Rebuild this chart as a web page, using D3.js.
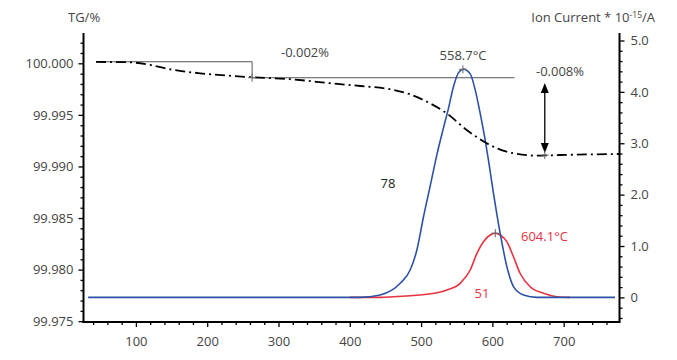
<!DOCTYPE html>
<html>
<head>
<meta charset="utf-8">
<script src="https://cdn.jsdelivr.net/npm/d3@7"></script>
<style>
html,body{margin:0;padding:0;background:#fff;}
svg{display:block;}
text{font-family:"Open Sans",sans-serif;}
</style>
</head>
<body>
<svg id="chart" width="677" height="360"></svg>
<script>
// ---- data ----
const tgTemp  = [44, 90, 120, 148, 190, 236, 264, 316, 377, 415, 461, 485, 508, 536, 564, 592, 620, 662, 695, 779];
const tgValue = [100.00013, 100.0001, 99.99984, 99.99942, 99.99903, 99.99877, 99.99864, 99.99846, 99.99804, 99.9978, 99.99743, 99.99698, 99.99628, 99.99515, 99.99354, 99.99225, 99.99143, 99.99105, 99.99111, 99.99121];

const m78Temp = [33, 414.6, 442.6, 470.7, 484.7, 494.1, 503.4, 512.8, 522.2, 531.4, 538.4, 545.4, 552.4, 559.5, 568.9, 575.9, 582.9, 589.9, 594.5, 601.5, 610.9, 620.3, 629.6, 643.6, 662.4, 772];
const m78Ion  = [0, 0, 0.047, 0.274, 0.533, 0.922, 1.57, 2.17, 2.78, 3.30, 3.68, 4.10, 4.37, 4.44, 4.35, 4.04, 3.58, 3.06, 2.67, 2.03, 1.25, 0.60, 0.21, 0.047, 0, 0];

const m51Temp = [400, 442.6, 461.3, 508.1, 536.2, 554.8, 568.9, 578.3, 587.5, 596.9, 603.9, 610.9, 620.3, 629.6, 639, 653, 671.7, 690.5, 709];
const m51Ion  = [0, 0, 0.014, 0.06, 0.144, 0.274, 0.533, 0.858, 1.084, 1.215, 1.248, 1.215, 1.084, 0.79, 0.465, 0.208, 0.08, 0.014, 0];

const xMajorTicks = [100, 200, 300, 400, 500, 600, 700];
const tgMajorTicks = [99.975, 99.980, 99.985, 99.990, 99.995, 100.000];
const ionMajorTicks = [0, 1, 2, 3, 4, 5];

// annotations
const step1 = {t0: 44, t1: 263, vTop: 100.00015, vStep: 99.9986, tLineEnd: 631, label: "-0.002%"};
const step2 = {t: 673.5, vTop: 99.99809, vBottom: 99.9913, label: "-0.008%"};
const peak78 = {t: 558.7, ion: 4.44, label: "558.7°C"};
const peak51 = {t: 604.1, ion: 1.25, label: "604.1°C"};

// ---- layout ----
const svg = d3.select("#chart");
const plotLeft = 83.5, plotRight = 619.5, plotTop = 33, plotBottom = 322;
const fs = "13px";

const x = d3.scaleLinear().domain([26.5, 778.3]).range([plotLeft, plotRight]);
const yTG = d3.scaleLinear().domain([99.975, 100.000]).range([321.2, 63.3]);
const yIon = d3.scaleLinear().domain([0, 5]).range([297.4, 40.5]);

const textColor = "#444";
const blue = "#2c52a6";
const red = "#e8323f";

// ---- axes ----
function styleAxis(g){
  g.selectAll("path.domain").remove();
  g.selectAll("line").attr("stroke", "#000").attr("stroke-width", 1.3);
  g.selectAll("text").attr("fill", textColor).style("font-size", fs).style("font-family", "'Open Sans',sans-serif");
}

// bottom
const xMinor = d3.range(40, 778, 20).filter(v => v % 100 !== 0);
svg.append("g").attr("transform", `translate(0,${plotBottom})`)
  .call(d3.axisBottom(x).tickValues(xMinor).tickSize(3).tickFormat(""))
  .call(styleAxis);
svg.append("g").attr("transform", `translate(0,${plotBottom})`)
  .call(d3.axisBottom(x).tickValues(xMajorTicks).tickSize(5).tickPadding(10).tickFormat(d3.format("d")))
  .call(styleAxis);

// left
const tgMinor = d3.range(99.975, 100.0029, 0.001).map(v => +v.toFixed(3)).filter(v => !tgMajorTicks.some(m => Math.abs(m - v) < 1e-9));
svg.append("g").attr("transform", `translate(${plotLeft},0)`)
  .call(d3.axisLeft(yTG).tickValues(tgMinor).tickSize(3).tickFormat(""))
  .call(styleAxis);
svg.append("g").attr("transform", `translate(${plotLeft},0)`)
  .call(d3.axisLeft(yTG).tickValues(tgMajorTicks).tickSize(5).tickPadding(5).tickFormat(d3.format(".3f")))
  .call(styleAxis);

// right
const ionMinor = d3.range(-0.4, 5.01, 0.2).map(v => +v.toFixed(1)).filter(v => Math.abs(v - Math.round(v)) > 1e-9);
svg.append("g").attr("transform", `translate(${plotRight},0)`)
  .call(d3.axisRight(yIon).tickValues(ionMinor).tickSize(3).tickFormat(""))
  .call(styleAxis);
svg.append("g").attr("transform", `translate(${plotRight},0)`)
  .call(d3.axisRight(yIon).tickValues(ionMajorTicks).tickSize(5).tickPadding(6).tickFormat(d => d === 0 ? "0" : d.toFixed(1)))
  .call(styleAxis);

// axis lines
svg.append("line").attr("x1", plotLeft).attr("x2", plotLeft).attr("y1", plotTop).attr("y2", plotBottom + 1)
  .attr("stroke", "#000").attr("stroke-width", 2);
svg.append("line").attr("x1", plotLeft - 1).attr("x2", plotRight + 1).attr("y1", plotBottom).attr("y2", plotBottom)
  .attr("stroke", "#000").attr("stroke-width", 2);
svg.append("line").attr("x1", plotRight).attr("x2", plotRight).attr("y1", plotTop).attr("y2", plotBottom)
  .attr("stroke", "#000").attr("stroke-width", 2);

// axis titles
svg.append("text").attr("x", 68).attr("y", 22).attr("fill", textColor).style("font-size", fs).text("TG/%");
const ionTitle = svg.append("text").attr("x", 655).attr("y", 22).attr("text-anchor", "end").attr("fill", textColor).style("font-size", fs);
ionTitle.append("tspan").text("Ion Current * 10");
ionTitle.append("tspan").attr("dy", -4).style("font-size", "8.5px").text("-15");
ionTitle.append("tspan").attr("dy", 4).text("/A");

// ---- annotation lines ----
const annoColor = "#555";
svg.append("path")
  .attr("d", `M${x(step1.t0)},${yTG(step1.vTop)}H${x(step1.t1)}V${yTG(step1.vStep)}`)
  .attr("fill", "none").attr("stroke", annoColor).attr("stroke-width", 1);
svg.append("line")
  .attr("x1", x(step1.t1)).attr("x2", x(step1.tLineEnd))
  .attr("y1", yTG(step1.vStep)).attr("y2", yTG(step1.vStep))
  .attr("stroke", annoColor).attr("stroke-width", 1);

// ---- curves ----
const lineTG = d3.line().x(d => x(d[0])).y(d => yTG(d[1])).curve(d3.curveMonotoneX);
const lineIon = d3.line().x(d => x(d[0])).y(d => yIon(d[1])).curve(d3.curveMonotoneX);

svg.append("path").datum(d3.zip(m51Temp, m51Ion)).attr("d", lineIon)
  .attr("fill", "none").attr("stroke", red).attr("stroke-width", 1.6);
svg.append("path").datum(d3.zip(m78Temp, m78Ion)).attr("d", lineIon)
  .attr("fill", "none").attr("stroke", blue).attr("stroke-width", 1.6);
svg.append("path").datum(d3.zip(tgTemp, tgValue)).attr("d", lineTG)
  .attr("fill", "none").attr("stroke", "#000").attr("stroke-width", 1.8)
  .attr("stroke-dasharray", "10,4,2,4");

// double arrow
const ax = x(step2.t), ay1 = yTG(step2.vTop), ay2 = yTG(step2.vBottom);
svg.append("line").attr("x1", ax).attr("x2", ax).attr("y1", ay1 + 4).attr("y2", ay2 - 4)
  .attr("stroke", "#000").attr("stroke-width", 1.3);
svg.append("path").attr("d", `M${ax},${ay1}L${ax - 4},${ay1 + 10}L${ax + 4},${ay1 + 10}Z`).attr("fill", "#000");
svg.append("path").attr("d", `M${ax},${ay2}L${ax - 4},${ay2 - 10}L${ax + 4},${ay2 - 10}Z`).attr("fill", "#000");

// cross markers
function cross(cx, cy){
  svg.append("path").attr("d", `M${cx - 4},${cy}H${cx + 4}M${cx},${cy - 4}V${cy + 4}`)
    .attr("stroke", "#666").attr("stroke-width", 1);
}
cross(x(step1.t1), yTG(step1.vStep));
cross(x(step2.t), yTG(99.9911));
cross(x(peak78.t), yIon(peak78.ion));
cross(x(peak51.t), yIon(peak51.ion));

// labels
function label(tx, ty, str, color, anchor){
  svg.append("text").attr("x", tx).attr("y", ty).attr("fill", color).attr("text-anchor", anchor || "middle")
    .style("font-size", fs).text(str);
}
label(305, 57, step1.label, textColor);
label(463, 60, peak78.label, textColor);
label(560, 76, step2.label, textColor);
label(388, 188, "78", "#222");
label(482, 298, "51", red);
label(521, 241, peak51.label, red, "start");
</script>
</body>
</html>
